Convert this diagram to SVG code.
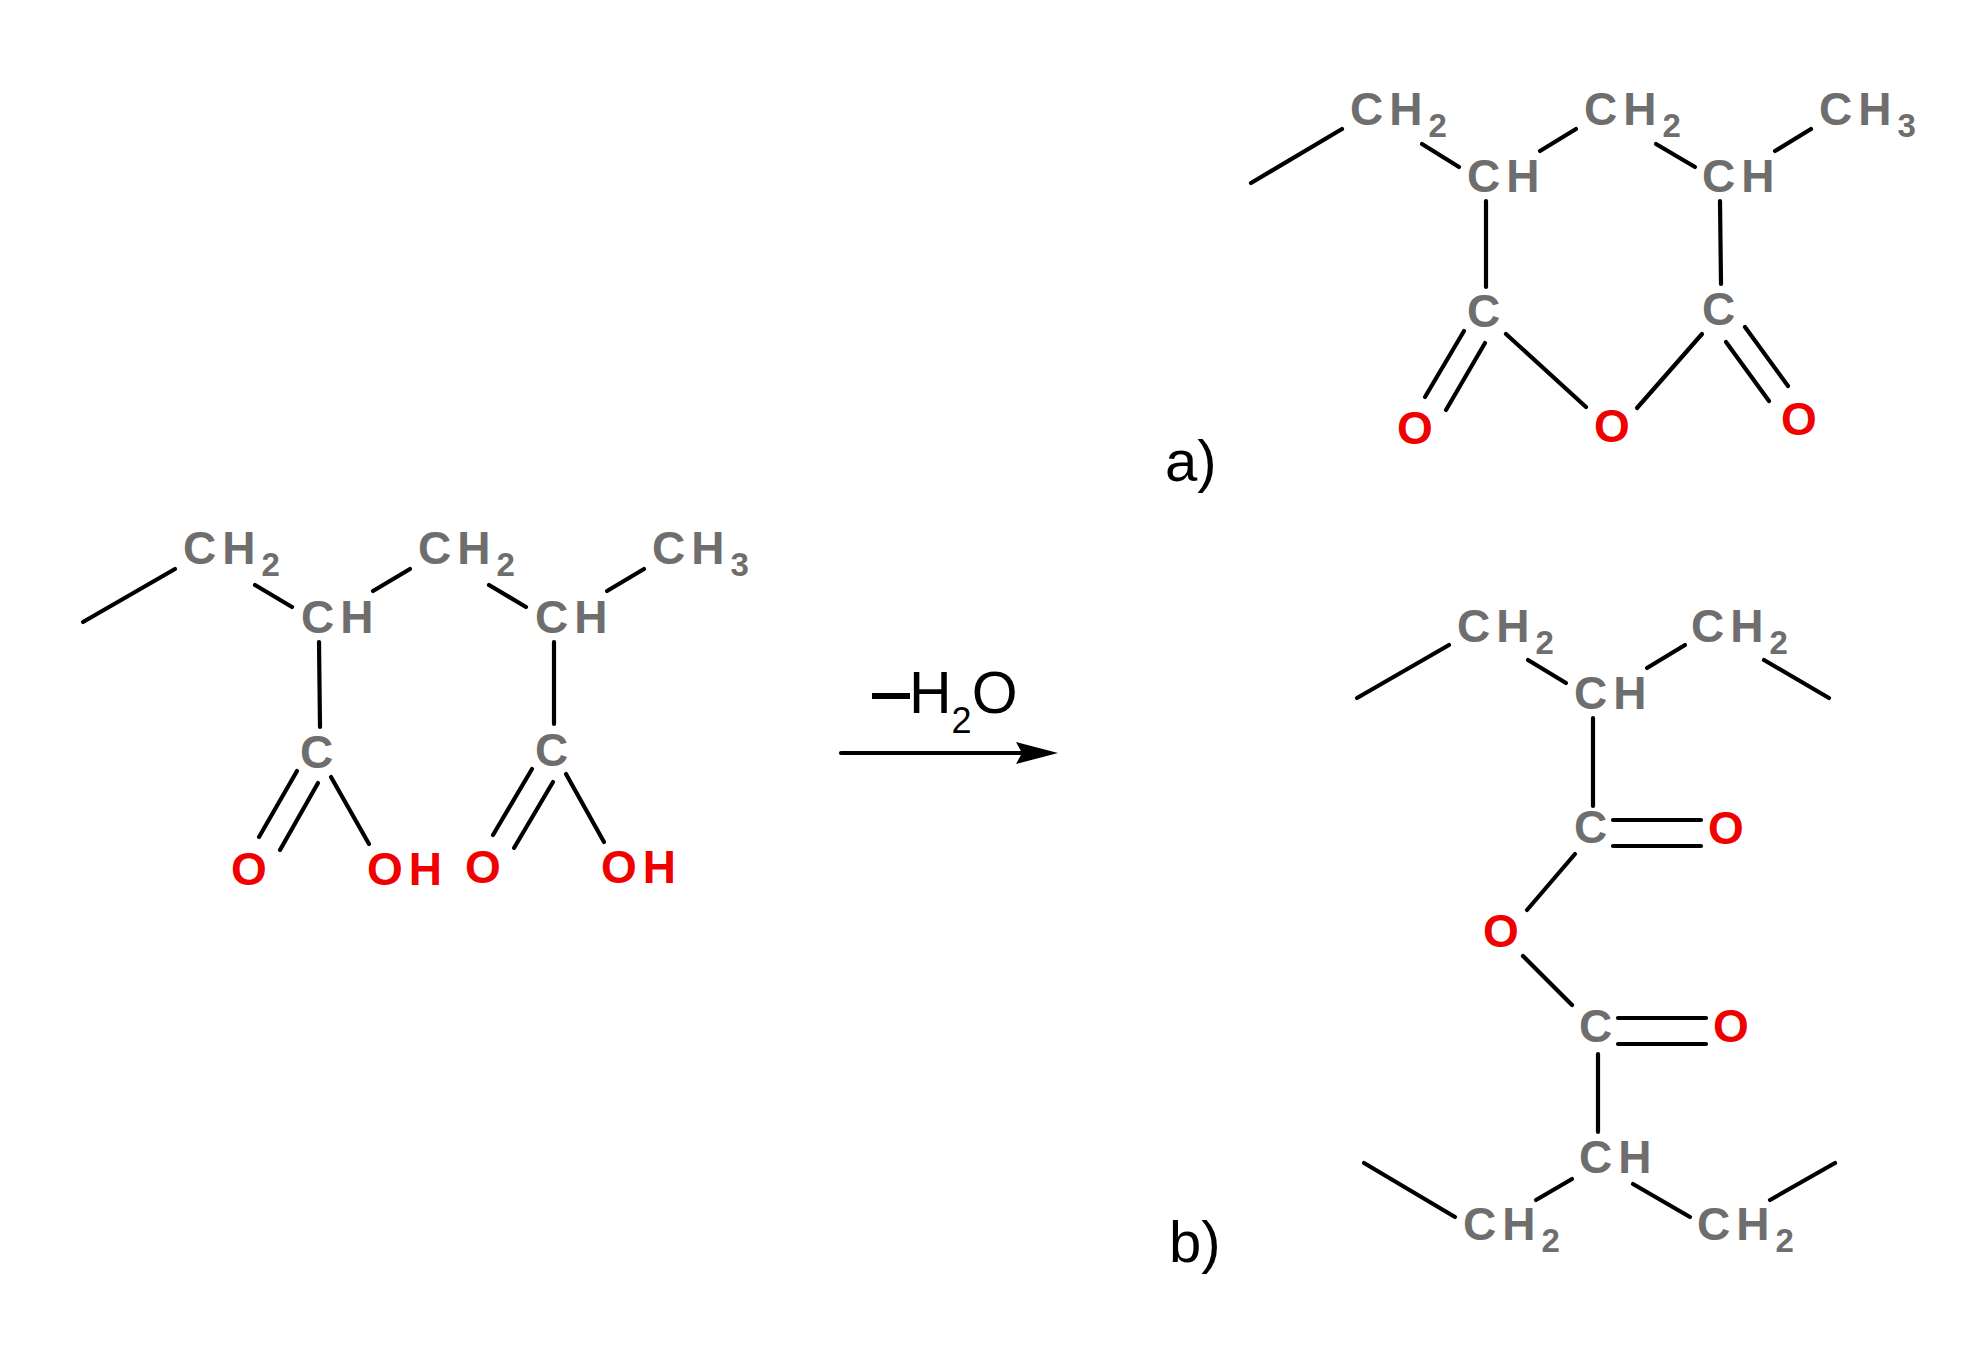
<svg xmlns="http://www.w3.org/2000/svg" width="1976" height="1360" viewBox="0 0 1976 1360">
<style>
.a{font-family:"Liberation Sans",Arial,sans-serif;font-weight:700;font-size:46px;letter-spacing:6px}
.g{fill:#6e6e6e}.r{fill:#f00000}
.s{font-size:33px;letter-spacing:0}
.t{font-family:"Liberation Sans",Arial,sans-serif;fill:#000}
#connectors line{stroke:#000;stroke-width:4.2;stroke-linecap:round;fill:none}
</style>
<defs>
<marker id="head" markerUnits="userSpaceOnUse" markerWidth="42" markerHeight="26" refX="6" refY="13" orient="auto">
<path d="M0 2L42 13L0 24L6 13Z" fill="#000"/>
</marker>
</defs>
<rect width="1976" height="1360" fill="#fff"/>
<g id="connectors">
<line x1="83" y1="622" x2="175" y2="569"/><line x1="255" y1="585" x2="292" y2="607"/><line x1="373" y1="591" x2="410" y2="569"/><line x1="489" y1="585" x2="526" y2="607"/><line x1="607" y1="591" x2="644" y2="569"/>
<line x1="319" y1="642" x2="320" y2="727"/><line x1="554" y1="642" x2="554" y2="724"/>
<line x1="297" y1="771" x2="259" y2="837"/><line x1="318" y1="783" x2="280" y2="850"/><line x1="331" y1="777" x2="369" y2="844"/>
<line x1="532" y1="769" x2="493" y2="835"/><line x1="553" y1="782" x2="514" y2="848"/><line x1="566" y1="774" x2="604" y2="842"/>
<line x1="1251" y1="183" x2="1342" y2="129"/><line x1="1422" y1="144" x2="1459" y2="167"/><line x1="1540" y1="151" x2="1576" y2="129"/><line x1="1656" y1="144" x2="1695" y2="167"/><line x1="1775" y1="151" x2="1811" y2="129"/>
<line x1="1486" y1="201" x2="1486" y2="287"/><line x1="1720" y1="201" x2="1721" y2="284"/>
<line x1="1464" y1="331" x2="1425" y2="397"/><line x1="1485" y1="343" x2="1446" y2="410"/><line x1="1506" y1="334" x2="1586" y2="407"/><line x1="1702" y1="334" x2="1637" y2="408"/>
<line x1="1745" y1="327" x2="1788" y2="386"/><line x1="1726" y1="342" x2="1769" y2="401"/>
<line x1="1357" y1="698" x2="1449" y2="645"/><line x1="1528" y1="660" x2="1566" y2="683"/><line x1="1647" y1="668" x2="1685" y2="645"/><line x1="1764" y1="660" x2="1829" y2="698"/>
<line x1="1593" y1="718" x2="1593" y2="806"/><line x1="1613" y1="820" x2="1701" y2="820"/><line x1="1613" y1="846" x2="1701" y2="846"/>
<line x1="1575" y1="854" x2="1527" y2="910"/><line x1="1523" y1="956" x2="1572" y2="1005"/>
<line x1="1618" y1="1018" x2="1706" y2="1018"/><line x1="1618" y1="1044" x2="1706" y2="1044"/><line x1="1598" y1="1054" x2="1598" y2="1132"/>
<line x1="1364" y1="1163" x2="1455" y2="1217"/><line x1="1536" y1="1200" x2="1572" y2="1179"/><line x1="1633" y1="1184" x2="1690" y2="1217"/><line x1="1770" y1="1200" x2="1835" y2="1163"/>
<line id="arrow" x1="841" y1="753" x2="1022" y2="753" marker-end="url(#head)"/>
</g>
<g id="reactant">
<g id="r-ch2-1"><text class="a g" x="183" y="564">CH<tspan class="s" dy="12">2</tspan></text></g>
<g id="r-ch-1"><text class="a g" x="301" y="633">CH</text></g>
<g id="r-ch2-2"><text class="a g" x="418" y="564">CH<tspan class="s" dy="12">2</tspan></text></g>
<g id="r-ch-2"><text class="a g" x="535" y="633">CH</text></g>
<g id="r-ch3"><text class="a g" x="652" y="564">CH<tspan class="s" dy="12">3</tspan></text></g>
<g id="r-c-1"><text class="a g" x="300" y="768">C</text></g>
<g id="r-c-2"><text class="a g" x="535" y="766">C</text></g>
<g id="r-o-1"><text class="a r" x="231" y="885">O</text></g>
<g id="r-oh-1"><text class="a r" x="367" y="885">OH</text></g>
<g id="r-o-2"><text class="a r" x="465" y="883">O</text></g>
<g id="r-oh-2"><text class="a r" x="601" y="883">OH</text></g>
</g>
<g id="reaction-label"><rect x="872" y="693" width="38" height="6" fill="#000"/><text class="t" x="909" y="713" font-size="59">H<tspan font-size="36" dy="20">2</tspan><tspan dy="-20">O</tspan></text></g>
<g id="product-a">
<g id="a-ch2-1"><text class="a g" x="1350" y="125">CH<tspan class="s" dy="12">2</tspan></text></g>
<g id="a-ch-1"><text class="a g" x="1467" y="192">CH</text></g>
<g id="a-ch2-2"><text class="a g" x="1584" y="125">CH<tspan class="s" dy="12">2</tspan></text></g>
<g id="a-ch-2"><text class="a g" x="1702" y="192">CH</text></g>
<g id="a-ch3"><text class="a g" x="1819" y="125">CH<tspan class="s" dy="12">3</tspan></text></g>
<g id="a-c-1"><text class="a g" x="1467" y="327">C</text></g>
<g id="a-c-2"><text class="a g" x="1702" y="325">C</text></g>
<g id="a-o-1"><text class="a r" x="1397" y="444">O</text></g>
<g id="a-o-2"><text class="a r" x="1594" y="442">O</text></g>
<g id="a-o-3"><text class="a r" x="1781" y="435">O</text></g>
<g id="a-label"><text class="t" x="1165" y="481" font-size="58">a)</text></g>
</g>
<g id="product-b">
<g id="b-ch2-1"><text class="a g" x="1457" y="642">CH<tspan class="s" dy="12">2</tspan></text></g>
<g id="b-ch2-2"><text class="a g" x="1691" y="642">CH<tspan class="s" dy="12">2</tspan></text></g>
<g id="b-ch-1"><text class="a g" x="1574" y="709">CH</text></g>
<g id="b-c-1"><text class="a g" x="1574" y="843">C</text></g>
<g id="b-o-1"><text class="a r" x="1708" y="844">O</text></g>
<g id="b-o-2"><text class="a r" x="1483" y="947">O</text></g>
<g id="b-c-2"><text class="a g" x="1579" y="1042">C</text></g>
<g id="b-o-3"><text class="a r" x="1713" y="1042">O</text></g>
<g id="b-ch-2"><text class="a g" x="1579" y="1173">CH</text></g>
<g id="b-ch2-3"><text class="a g" x="1463" y="1240">CH<tspan class="s" dy="12">2</tspan></text></g>
<g id="b-ch2-4"><text class="a g" x="1697" y="1240">CH<tspan class="s" dy="12">2</tspan></text></g>
<g id="b-label"><text class="t" x="1169" y="1262" font-size="58">b)</text></g>
</g>
</svg>
